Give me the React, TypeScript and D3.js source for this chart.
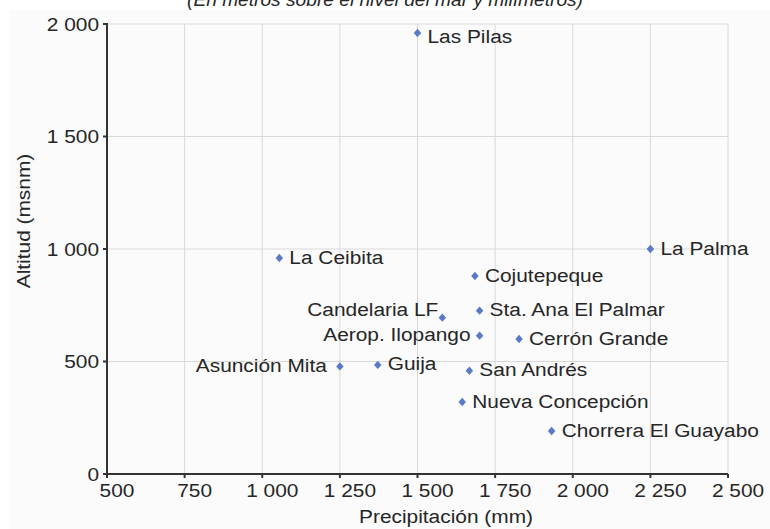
import React, { useEffect, useRef } from 'react'
import * as d3 from 'd3'

// Estaciones: precipitación anual (mm) vs altitud (msnm)
const stations = [
  'Las Pilas', 'La Ceibita', 'La Palma', 'Cojutepeque', 'Candelaria LF',
  'Sta. Ana El Palmar', 'Aerop. Ilopango', 'Cerrón Grande', 'Asunción Mita',
  'Guija', 'San Andrés', 'Nueva Concepción', 'Chorrera El Guayabo',
]
const precipitation = [1500, 1055, 2250, 1685, 1580, 1700, 1700, 1827, 1250, 1372, 1667, 1644, 1932]
const altitude = [1960, 960, 1000, 880, 695, 726, 615, 600, 478, 485, 459, 320, 191]

const xTicks = [500, 750, 1000, 1250, 1500, 1750, 2000, 2250, 2500]
const yTicks = [0, 500, 1000, 1500, 2000]

const subtitle = '(En metros sobre el nivel del mar y milímetros)'
const xTitle = 'Precipitación (mm)'
const yTitle = 'Altitud (msnm)'

// labels drawn on the left of their marker
const leftLabels = ['Candelaria LF', 'Aerop. Ilopango', 'Asunción Mita']

const W = 770
const H = 529
const FONT = '"Liberation Sans", Arial, sans-serif'
const SX = 1.16 // the source text is a bit wide

const fmt = (v: number) => d3.format(',')(v).replace(',', ' ')

function draw(svgEl: SVGSVGElement) {
  const svg = d3.select(svgEl)
  svg.selectAll('*').remove()

  const x = d3.scaleLinear().domain([500, 2500]).range([107, 728])
  const y = d3.scaleLinear().domain([0, 2000]).range([474, 24])

  svg.append('rect').attr('width', W).attr('height', H).attr('fill', '#fff')
  svg.append('rect').attr('x', 10).attr('y', 10).attr('width', W - 10).attr('height', H - 10).attr('fill', '#fbfbfb')

  const txt = (g: any, tx: number, ty: number, s: string, anchor: string, size = 18, rot = 0) => {
    const t = g.append('g').attr('transform', `translate(${tx},${ty}) rotate(${rot}) scale(${SX},1)`)
    return t.append('text')
      .attr('text-anchor', anchor)
      .attr('font-family', FONT)
      .attr('font-size', size)
      .attr('fill', '#262626')
      .text(s)
  }

  // subtitle, cut at the top edge as in the source
  svg.append('text')
    .attr('x', 385).attr('y', 6)
    .attr('text-anchor', 'middle')
    .attr('font-family', FONT)
    .attr('font-style', 'italic')
    .attr('font-size', 18)
    .attr('fill', '#262626')
    .attr('textLength', 396)
    .attr('lengthAdjust', 'spacingAndGlyphs')
    .text(subtitle)

  // grid
  const grid = svg.append('g').attr('stroke', '#d9d9d9').attr('stroke-width', 1)
  grid.selectAll('line.v').data(xTicks.slice(1)).enter().append('line')
    .attr('x1', d => x(d)).attr('x2', d => x(d))
    .attr('y1', y(2000)).attr('y2', y(0))
  grid.selectAll('line.h').data(yTicks.slice(1)).enter().append('line')
    .attr('x1', x(500)).attr('x2', x(2500))
    .attr('y1', d => y(d)).attr('y2', d => y(d))

  // axes
  const ax = svg.append('g').attr('stroke', '#333').attr('stroke-width', 2)
  ax.append('line').attr('x1', x(500)).attr('x2', x(500)).attr('y1', y(2000) - 1).attr('y2', y(0))
  ax.append('line').attr('x1', x(500) - 1).attr('x2', x(2500)).attr('y1', y(0)).attr('y2', y(0))
  ax.selectAll('line.yt').data(yTicks).enter().append('line')
    .attr('x1', x(500) - 4).attr('x2', x(500)).attr('y1', d => y(d)).attr('y2', d => y(d))
  ax.selectAll('line.xt').data(xTicks).enter().append('line')
    .attr('x1', d => x(d)).attr('x2', d => x(d)).attr('y1', y(0)).attr('y2', y(0) + 4)

  const labels = svg.append('g')
  yTicks.forEach(v => txt(labels, 99, y(v) + 6.5, fmt(v), 'end'))
  xTicks.forEach(v => txt(labels, x(v) + 10, 497, fmt(v), 'middle'))

  txt(labels, 446, 523, xTitle, 'middle')
  txt(labels, 30, 221, yTitle, 'middle', 18, -90)

  // markers
  const idx = d3.range(stations.length)
  svg.append('g').selectAll('path').data(idx).enter().append('path')
    .attr('transform', i => `translate(${x(precipitation[i])},${y(altitude[i])}) scale(0.9,1)`)
    .attr('d', d3.symbol().type(d3.symbolDiamond2).size(44)())
    .attr('fill', '#5b79c7')

  // point labels
  const pl = svg.append('g')
  idx.forEach(i => {
    const px = x(precipitation[i])
    const py = y(altitude[i])
    const name = stations[i]
    if (leftLabels.includes(name)) {
      const gap = name === 'Candelaria LF' ? 4 : name === 'Asunción Mita' ? 13 : 9
      const dy = name === 'Candelaria LF' ? -2 : 5.5
      txt(pl, px - gap, py + dy, name, 'end')
    } else {
      const dy = name === 'Las Pilas' ? 10 : 5.5
      txt(pl, px + 10, py + dy, name, 'start')
    }
  })
}

export default function App() {
  const ref = useRef<SVGSVGElement>(null)
  useEffect(() => {
    if (ref.current) draw(ref.current)
  }, [])
  return (
    <svg ref={ref} width={W} height={H}
      style={{ position: 'absolute', left: 0, top: 0, display: 'block' }} />
  )
}
